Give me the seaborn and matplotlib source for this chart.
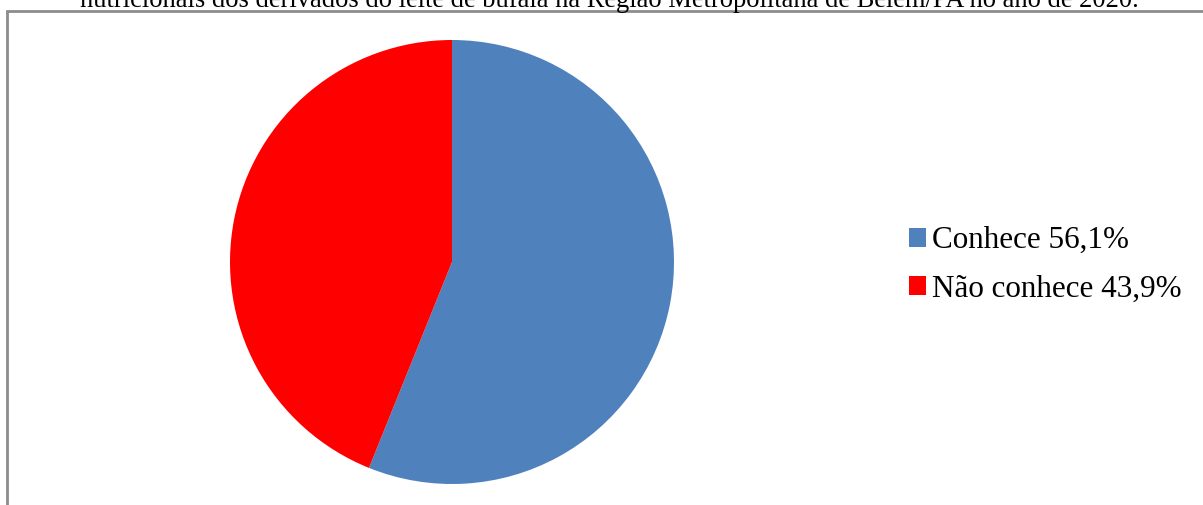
import matplotlib
matplotlib.use('Agg')
import matplotlib.pyplot as plt
import seaborn as sns
from matplotlib.patches import Patch, Rectangle

sns.set_theme(style='white')
plt.rcParams['font.family'] = ['Liberation Serif', 'DejaVu Serif']
plt.rcParams['text.color'] = 'black'

labels = ['Conhece 56,1%', 'Não conhece 43,9%']
values = [56.1, 43.9]
colors = ['#4F81BD', '#FF0000']
title = 'nutricionais dos derivados do leite de búfala na Região Metropolitana de Belém/PA no ano de 2020.'

W, H = 1203, 505
fig = plt.figure(figsize=(W / 100, H / 100), dpi=100)
fig.patch.set_facecolor('white')

# caption line cut at the top of the crop
fig.text(609 / W, 1 - 7 / H, title, ha='center', va='baseline', fontsize=19.1,
         color='black', zorder=5)

# chart area frame (only top and left are visible)
fig.add_artist(Rectangle((7 / W, -0.1), 1.2, 1 - 10.5 / H + 0.1, transform=fig.transFigure,
                         fill=False, edgecolor='#8c8c8c', linewidth=2, zorder=1))

ax = fig.add_axes([230 / W, 21 / H, 444 / W, 444 / H])
ax.pie(values, colors=colors, startangle=90, counterclock=False,
       wedgeprops=dict(linewidth=0), radius=1)
ax.set_xlim(-1, 1)
ax.set_ylim(-1, 1)
ax.set_aspect('equal')
ax.axis('off')

handles = [Patch(facecolor=c, edgecolor='none') for c in colors]
leg = fig.legend(handles, labels, loc='center left', bbox_to_anchor=(909 / W, 1 - 265 / H),
                 frameon=False, fontsize=22.4, handlelength=0.55, handleheight=0.55,
                 handletextpad=0.2, labelspacing=0.63, borderpad=0, borderaxespad=0)
for t in leg.get_texts():
    t.set_color('black')

fig.savefig('out.png', dpi=100)
